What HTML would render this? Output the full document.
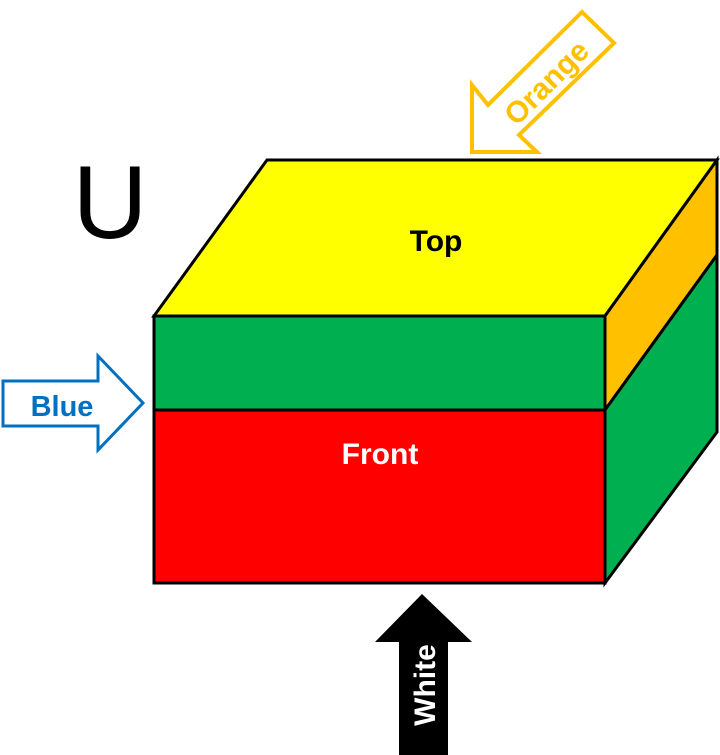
<!DOCTYPE html>
<html><head><style>body{margin:0;background:#fff}svg{display:block}</style></head><body>
<svg width="720" height="755" viewBox="0 0 720 755" xmlns="http://www.w3.org/2000/svg" font-family="Liberation Sans, sans-serif">
<polygon points="154,316 267,160 717,160 605,316" fill="#ffff00" stroke="#000" stroke-width="3"/>
<polygon points="605,316 717,160 717,255 605,410" fill="#ffc000" stroke="#000" stroke-width="3"/>
<polygon points="605,410 717,255 717,432 605,583" fill="#00b050" stroke="#000" stroke-width="3"/>
<rect x="154" y="316" width="451" height="94" fill="#00b050" stroke="#000" stroke-width="3"/>
<rect x="154" y="410" width="451" height="173" fill="#ff0000" stroke="#000" stroke-width="3"/>
<text x="436" y="251" font-size="30" font-weight="bold" text-anchor="middle" fill="#000">Top</text>
<text x="380" y="464" font-size="30" font-weight="bold" text-anchor="middle" fill="#fff">Front</text>
<text x="110" y="238" font-size="104" text-anchor="middle" fill="#000">U</text>
<polygon points="472,152 472,85 488,105 582,12 614,43 519,135 537,152" fill="#fff" stroke="#ffc000" stroke-width="4" stroke-linejoin="miter"/>
<text x="0" y="0" font-size="30" font-weight="bold" fill="#ffc000" text-anchor="middle" transform="translate(546,82) rotate(-45)" dy="11">Orange</text>
<polygon points="3,381 98,381 98,356 143,403 98,450 98,426 3,426" fill="#fff" stroke="#0070c0" stroke-width="3"/>
<text x="62" y="416" font-size="29" font-weight="bold" fill="#0070c0" text-anchor="middle">Blue</text>
<polygon points="422,594 375,642 399,642 399,755 448,755 448,642 472,642" fill="#000"/>
<text x="0" y="0" font-size="30" font-weight="bold" fill="#fff" text-anchor="middle" transform="translate(424,685) rotate(-90)" dy="11">White</text>
</svg>
</body></html>
